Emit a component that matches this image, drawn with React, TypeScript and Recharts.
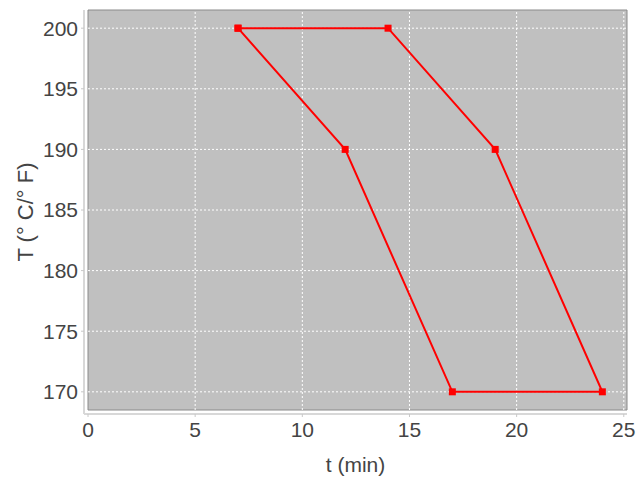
import React from "react";
import { LineChart, Line, XAxis, YAxis, ReferenceArea, ReferenceLine, Label } from "recharts";

const tValues = [7, 14, 19, 24, 17, 12, 7];
const tempValues = [200, 200, 190, 170, 170, 190, 200];
const xTicks = [0, 5, 10, 15, 20, 25];
const yTicks = [170, 175, 180, 185, 190, 195, 200];
const xDomain: [number, number] = [0, 25.15];
const yDomain: [number, number] = [168.5, 201.5];

const data = tValues.map((t, i) => ({ t, T: tempValues[i] }));

const FONT = "'Liberation Sans', Arial, sans-serif";

const SquareDot = (props: any) => {
  const { cx, cy, index } = props;
  if (cx == null || cy == null) return <g key={`d${index}`} />;
  return <rect key={`d${index}`} x={cx - 3.5} y={cy - 3.5} width={7} height={7} fill="#ff0000" />;
};

export default function App() {
  return (
    <div style={{ position: "fixed", left: 0, top: 0, width: 640, height: 480, background: "#fff" }}>
      <LineChart width={640} height={480} data={data} margin={{ top: 10, right: 13, bottom: 0, left: 0 }}>
        <XAxis
          dataKey="t"
          type="number"
          domain={xDomain}
          ticks={xTicks}
          allowDataOverflow
          padding={{ left: 4, right: 0 }}
          height={66}
          axisLine={{ stroke: "#d8d8d8", strokeWidth: 2 }}
          tickLine={{ stroke: "#c8c8c8" }}
          tickSize={3}
          tickMargin={5}
          tick={{ fill: "#444444", fontSize: 21, fontFamily: FONT }}
        >
          <Label value="t (min)" position="insideBottom" offset={8} style={{ fill: "#444444", fontSize: 21, fontFamily: FONT }} />
        </XAxis>
        <YAxis
          dataKey="T"
          type="number"
          domain={yDomain}
          ticks={yTicks}
          allowDataOverflow
          padding={{ top: 0, bottom: 4 }}
          width={84}
          axisLine={{ stroke: "#d8d8d8", strokeWidth: 2 }}
          tickLine={{ stroke: "#c8c8c8" }}
          tickSize={3}
          tickMargin={3}
          tick={{ fill: "#444444", fontSize: 21, fontFamily: FONT }}
        >
          <Label
            value="T (° C/° F)"
            angle={-90}
            position="insideLeft"
            offset={25}
            style={{ fill: "#444444", fontSize: 22, fontFamily: FONT, textAnchor: "middle" }}
          />
        </YAxis>
        <ReferenceArea
          x1={xDomain[0]}
          x2={xDomain[1]}
          y1={yDomain[0]}
          y2={yDomain[1]}
          fill="#c0c0c0"
          fillOpacity={1}
          stroke="#8a8a8a"
          strokeWidth={1}
        />
        {xTicks.slice(1).map((x) => (
          <ReferenceLine key={`vx${x}`} x={x} stroke="#ffffff" strokeDasharray="2 2" strokeWidth={1} />
        ))}
        {yTicks.map((y) => (
          <ReferenceLine key={`hy${y}`} y={y} stroke="#ffffff" strokeDasharray="2 2" strokeWidth={1} />
        ))}
        <Line
          dataKey="T"
          type="linear"
          stroke="#ff0000"
          strokeWidth={2}
          dot={SquareDot}
          activeDot={false}
          isAnimationActive={false}
        />
      </LineChart>
    </div>
  );
}
